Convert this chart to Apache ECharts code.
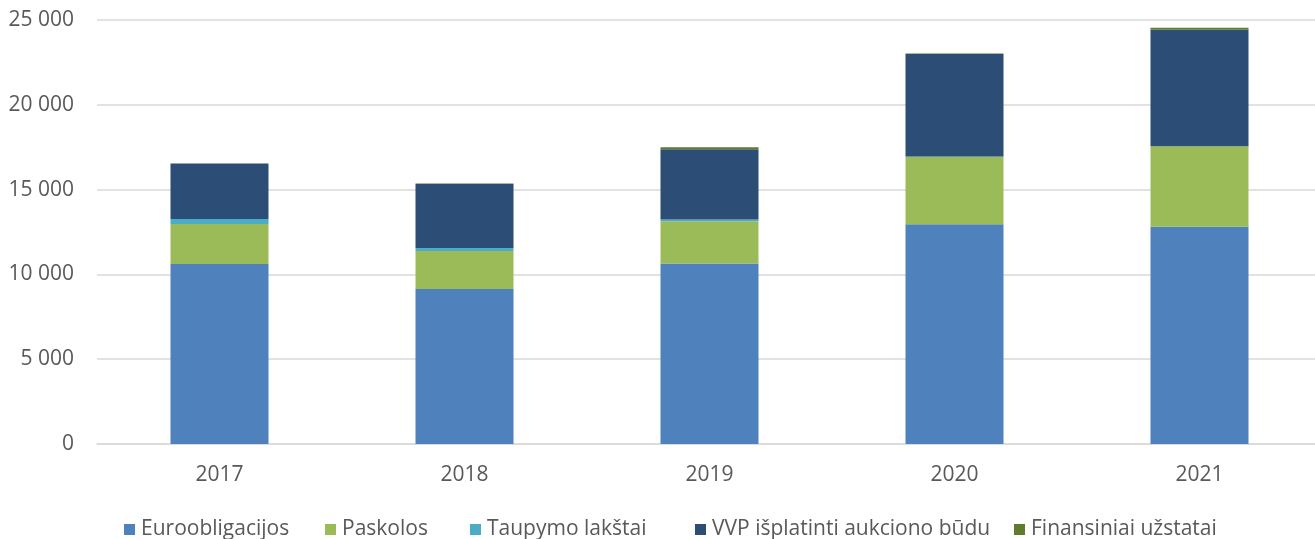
<!DOCTYPE html>
<html>
<head>
<meta charset="UTF-8">
<title>Skola</title>
<style>
  html, body { margin: 0; padding: 0; background: #fff; }
  #chart { width: 1315px; height: 539px; }
</style>
</head>
<body>
<div id="chart"></div>
<script src="https://cdn.jsdelivr.net/npm/echarts@6/dist/echarts.min.js"></script>
<script>
// metai
var years = ['2017', '2018', '2019', '2020', '2021'];
// serijos (mln. EUR), nuskaityta nuo paveikslo
var euroobligacijos = [10610, 9140, 10650, 12950, 12810];
var paskolos = [2360, 2240, 2490, 3970, 4740];
var taupymoLakstai = [295, 180, 100, 30, 10];
var vvpAukcionu = [3280, 3770, 4140, 6040, 6860];
var finansiniaiUzstatai = [0, 30, 120, 30, 120];
var seriesNames = ['Euroobligacijos', 'Paskolos', 'Taupymo lakštai', 'VVP išplatinti aukciono būdu', 'Finansiniai užstatai'];
var yTicks = [0, 5000, 10000, 15000, 20000, 25000];

var colors = ['#4F81BD', '#9BBB59', '#4BACC6', '#2C4D75', '#5F7B2D'];
var font = '"Open Sans", "Noto Sans", sans-serif';
var legendLeft = [119, 320, 465, 690, 1009];

function fmt(v) {
  return String(v).replace(/\B(?=(\d{3})+(?!\d))/g, ' ');
}

function bar(name, data) {
  return {
    name: name,
    type: 'bar',
    stack: 'total',
    barWidth: 98,
    data: data
  };
}

// kiekviena legendos dalis atskirai, kad tarpai atitiktų
var legends = seriesNames.map(function(n, i) {
  return {
    top: 514,
    left: legendLeft[i],
    itemWidth: 11,
    itemHeight: 11,
    itemGap: 0,
    icon: 'rect',
    textStyle: { color: '#595959', fontSize: 21, fontFamily: font, padding: [0, 0, 0, 1] },
    data: [n]
  };
});

var chart = echarts.init(document.getElementById('chart'));
chart.setOption({
  animation: false,
  color: colors,
  grid: { left: 97, top: 20, width: 1225, height: 424, containLabel: false, outerBoundsMode: 'none' },
  legend: legends,
  xAxis: {
    type: 'category',
    data: years,
    axisLine: { lineStyle: { color: '#D9D9D9', width: 1.5 } },
    axisTick: { show: false },
    axisLabel: { color: '#595959', fontSize: 21, fontFamily: font, margin: 21 }
  },
  yAxis: {
    type: 'value',
    min: yTicks[0],
    max: yTicks[yTicks.length - 1],
    interval: 5000,
    axisLine: { show: false },
    axisTick: { show: false },
    splitLine: { lineStyle: { color: '#D9D9D9', width: 1.5 } },
    axisLabel: { color: '#595959', fontSize: 21, fontFamily: font, margin: 23, formatter: fmt }
  },
  series: [
    bar(seriesNames[0], euroobligacijos),
    bar(seriesNames[1], paskolos),
    bar(seriesNames[2], taupymoLakstai),
    bar(seriesNames[3], vvpAukcionu),
    bar(seriesNames[4], finansiniaiUzstatai)
  ]
});
</script>
</body>
</html>
